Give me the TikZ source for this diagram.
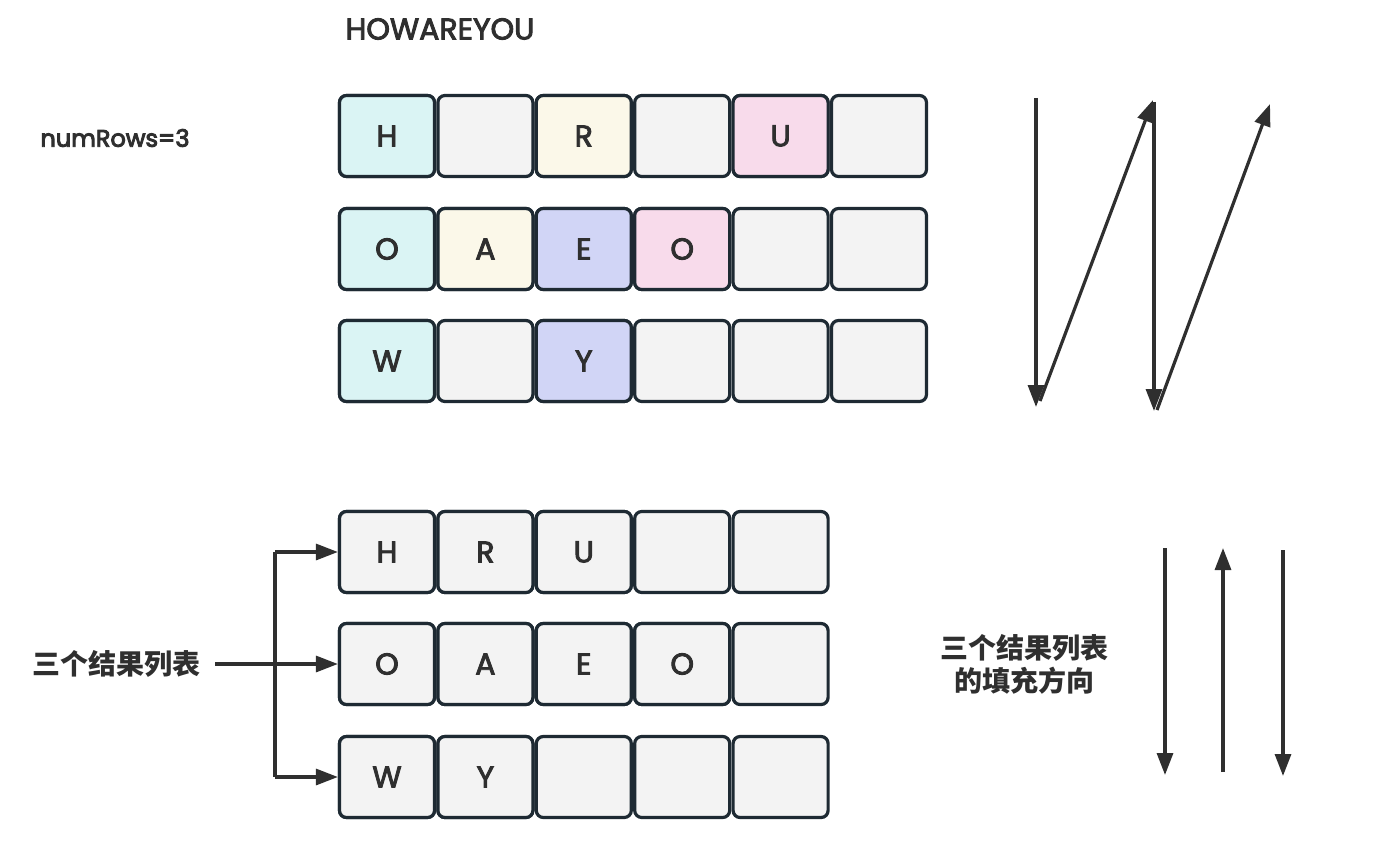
\documentclass[tikz,border=0pt]{standalone}
\usepackage{fontspec}
\setmainfont{Poppins}
\newfontfamily\hand{Poppins}[FakeBold=3]
\newfontfamily\handb{Poppins}[FakeBold=4]
\newfontfamily\cjk{Noto Sans CJK SC}
\usetikzlibrary{arrows.meta}
\definecolor{ink}{HTML}{2F2F2F}
\definecolor{edge}{HTML}{1E2A33}
\definecolor{cyanc}{HTML}{DAF4F4}
\definecolor{yelc}{HTML}{FBF8E9}
\definecolor{purc}{HTML}{D1D5F6}
\definecolor{pinkc}{HTML}{F8DBEB}
\definecolor{greyc}{HTML}{F3F3F3}
\tikzset{
  cell/.style={draw=edge, line width=3.2pt, rounded corners=7pt, fill=greyc,
    minimum width=95pt, minimum height=81pt, inner sep=0pt, text=ink,
    font=\hand\fontsize{30}{32}\selectfont},
  arr/.style={draw=ink, line width=3.2pt, -{Triangle[length=22pt,width=16pt]}},
  lab/.style={text=ink, inner sep=0pt}
}
\begin{document}
\begin{tikzpicture}[x=1pt,y=-1pt]
\useasboundingbox (0,0) rectangle (1375,842);
% top grid
\foreach \r/\y in {1/136,2/249,3/361}{
  \foreach \c in {1,...,6}{
    \node[cell] (t\r\c) at ({387+98.4*(\c-1)},\y) {};
  }
}
\node[cell,fill=cyanc] at (t11) {H};
\node[cell,fill=yelc] at (t13) {R};
\node[cell,fill=pinkc] at (t15) {U};
\node[cell,fill=cyanc] at (t21) {O};
\node[cell,fill=yelc] at (t22) {A};
\node[cell,fill=purc] at (t23) {E};
\node[cell,fill=pinkc] at (t24) {O};
\node[cell,fill=cyanc] at (t31) {W};
\node[cell,fill=purc] at (t33) {Y};
% bottom grid
\foreach \r/\y in {1/552,2/664,3/777}{
  \foreach \c in {1,...,5}{
    \node[cell] (b\r\c) at ({387+98.4*(\c-1)},\y) {};
  }
}
\node[cell] at (b11) {H};
\node[cell] at (b12) {R};
\node[cell] at (b13) {U};
\node[cell] at (b21) {O};
\node[cell] at (b22) {A};
\node[cell] at (b23) {E};
\node[cell] at (b24) {O};
\node[cell] at (b31) {W};
\node[cell] at (b32) {Y};
% texts
\node[lab, font=\hand\fontsize{30}{32}\selectfont] (title) at (440,29) {HOWAREYOU};
\node[lab, font=\handb\fontsize{24}{26}\selectfont] (rows) at (115,138) {numRows=3};
\node[lab, font=\cjk\bfseries\fontsize{28}{30}\selectfont] (lbl) at (116,664) {三个结果列表};
\node[lab, font=\cjk\bfseries\fontsize{28}{30}\selectfont, align=center] (lbl2) at (1024,664) {三个结果列表\\[3pt]的填充方向};
% connectors left
\coordinate (jtop) at (275,552);
\coordinate (jbot) at (275,777);
\draw[arr] (lbl.east) ++(15,0) -- (b21.west);
\draw[draw=ink, line width=3.2pt] (jtop) -- (jbot);
\draw[arr] (jtop) -- (b11.west);
\draw[arr] (jbot) -- (b31.west);
% zigzag arrows
\coordinate (z1) at (1036,98);
\coordinate (z2) at (1036,407);
\coordinate (z3) at (1040,401);
\coordinate (z4) at (1153,100);
\coordinate (z5) at (1154,102);
\coordinate (z6) at (1154,411);
\coordinate (z7) at (1157,410);
\coordinate (z8) at (1270,104);
\draw[arr] (z1) -- (z2);
\draw[arr] (z3) -- (z4);
\draw[arr] (z5) -- (z6);
\draw[arr] (z7) -- (z8);
% fill direction arrows
\coordinate (d1) at (1165,548);
\coordinate (d2) at (1165,775);
\coordinate (d3) at (1223,772);
\coordinate (d4) at (1223,548);
\coordinate (d5) at (1283,550);
\coordinate (d6) at (1283,776);
\draw[arr] (d1) -- (d2);
\draw[arr] (d3) -- (d4);
\draw[arr] (d5) -- (d6);
\end{tikzpicture}
\end{document}
